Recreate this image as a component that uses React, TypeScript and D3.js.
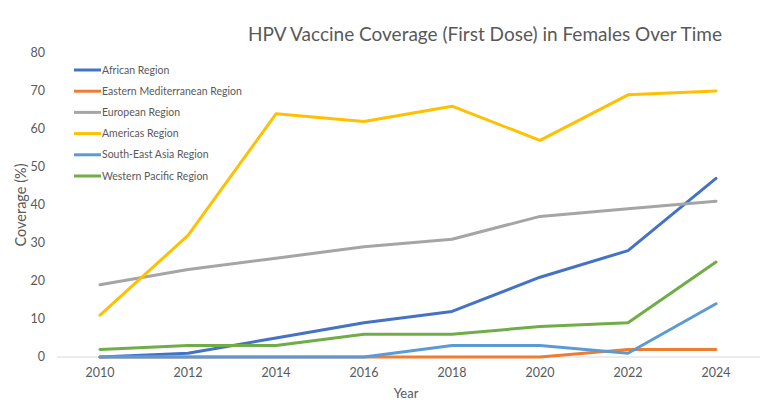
import React, { useEffect, useRef } from 'react'
import * as d3 from 'd3'

const years = [2010, 2012, 2014, 2016, 2018, 2020, 2022, 2024]
const regions = [
  'African Region',
  'Eastern Mediterranean Region',
  'European Region',
  'Americas Region',
  'South-East Asia Region',
  'Western Pacific Region',
]
const african = [0, 1, 5, 9, 12, 21, 28, 47]
const easternMed = [0, 0, 0, 0, 0, 0, 2, 2]
const european = [19, 23, 26, 29, 31, 37, 39, 41]
const americas = [11, 32, 64, 62, 66, 57, 69, 70]
const southEastAsia = [0, 0, 0, 0, 3, 3, 1, 14]
const westernPacific = [2, 3, 3, 6, 6, 8, 9, 25]
const colors = ['#4472C4', '#ED7D31', '#A5A5A5', '#FFC000', '#5B9BD5', '#70AD47']
const yTicks = [0, 10, 20, 30, 40, 50, 60, 70, 80]

const W = 768, H = 412
const font = 'Lato, "Open Sans", sans-serif'

export default function App() {
  const ref = useRef<SVGSVGElement>(null)

  useEffect(() => {
    const svg = d3.select(ref.current)
    svg.selectAll('*').remove()

    const series = [african, easternMed, european, americas, southEastAsia, westernPacific]

    const x = d3.scaleLinear().domain([2010, 2024]).range([100, 716])
    const y = d3.scaleLinear().domain([0, 80]).range([357, 53])

    // axis baseline
    svg.append('line')
      .attr('x1', 57).attr('x2', 760)
      .attr('y1', y(0)).attr('y2', y(0))
      .attr('stroke', '#d9d9d9').attr('stroke-width', 1)

    svg.append('g').selectAll('text')
      .data(yTicks)
      .enter().append('text')
      .attr('x', 45)
      .attr('y', d => y(d))
      .attr('dy', '0.35em')
      .attr('text-anchor', 'end')
      .attr('font-size', 12.5)
      .attr('font-family', font)
      .attr('fill', '#595959')
      .text(d => d)

    svg.append('g').selectAll('text')
      .data(years)
      .enter().append('text')
      .attr('x', d => x(d))
      .attr('y', 377)
      .attr('text-anchor', 'middle')
      .attr('font-size', 12.5)
      .attr('font-family', font)
      .attr('fill', '#595959')
      .text(d => d)

    const line = d3.line<number>()
      .x((d, i) => x(years[i]))
      .y(d => y(d))

    series.forEach((s, i) => {
      svg.append('path')
        .datum(s)
        .attr('d', line)
        .attr('fill', 'none')
        .attr('stroke', colors[i])
        .attr('stroke-width', 3)
        .attr('stroke-linejoin', 'round')
        .attr('stroke-linecap', 'round')
    })

    // legend
    const lg = svg.append('g')
    regions.forEach((r, i) => {
      const ly = 70 + i * 21.2
      lg.append('line')
        .attr('x1', 74).attr('x2', 101)
        .attr('y1', ly).attr('y2', ly)
        .attr('stroke', colors[i]).attr('stroke-width', 3)
      lg.append('text')
        .attr('x', 102).attr('y', ly)
        .attr('dy', '0.35em')
        .attr('font-size', 10.5)
        .attr('font-family', font)
        .attr('fill', '#595959')
        .text(r)
    })

    svg.append('text')
      .attr('x', 485).attr('y', 41)
      .attr('text-anchor', 'middle')
      .attr('font-size', 19)
      .attr('font-family', font)
      .attr('fill', '#595959')
      .text('HPV Vaccine Coverage (First Dose) in Females Over Time')

    svg.append('text')
      .attr('x', 406).attr('y', 398)
      .attr('text-anchor', 'middle')
      .attr('font-size', 13)
      .attr('font-family', font)
      .attr('fill', '#595959')
      .text('Year')

    svg.append('text')
      .attr('transform', 'translate(26,205) rotate(-90)')
      .attr('text-anchor', 'middle')
      .attr('font-size', 14.5)
      .attr('font-family', font)
      .attr('fill', '#595959')
      .text('Coverage (%)')
  }, [])

  return (
    <svg ref={ref} width={W} height={H}
      style={{ position: 'absolute', left: 0, top: 0, background: '#fff' }} />
  )
}
